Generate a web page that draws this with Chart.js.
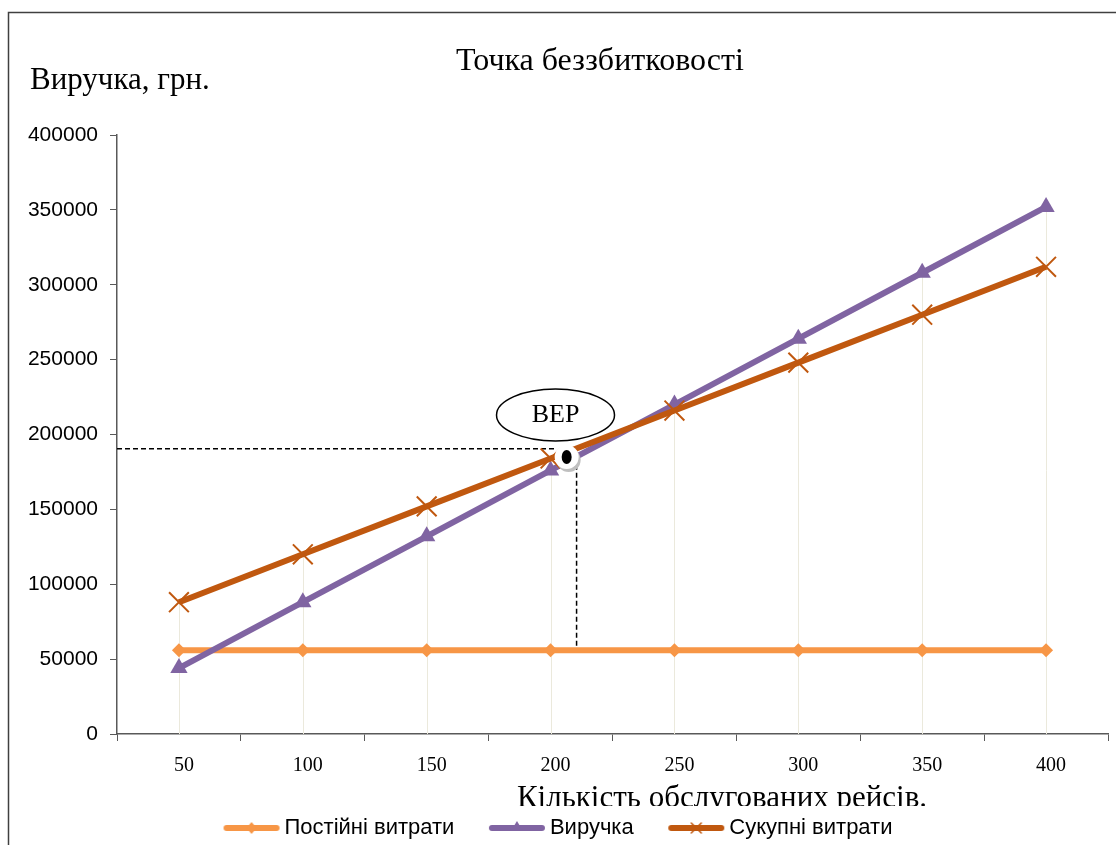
<!DOCTYPE html>
<html>
<head>
<meta charset="utf-8">
<script src="https://cdn.jsdelivr.net/npm/chart.js@4.4.1/dist/chart.umd.min.js"></script>
<style>
  html, body { margin: 0; padding: 0; background: #fff; overflow: hidden; }
  #wrap { position: relative; width: 1116px; height: 845px; overflow: hidden; }
</style>
</head>
<body>
<div id="wrap"><canvas id="bepChart" width="1124" height="845"></canvas></div>
<script>
// data
var categories = ['50', '100', '150', '200', '250', '300', '350', '400'];
var fixedCosts = [56000, 56000, 56000, 56000, 56000, 56000, 56000, 56000];
var revenue = [44000, 88000, 132000, 176000, 220000, 264000, 308000, 352000];
var totalCosts = [88000, 120000, 152000, 184000, 216000, 248000, 280000, 312000];
var yMin = 0, yMax = 400000, yStep = 50000;
var seriesNames = ['Постійні витрати', 'Виручка', 'Сукупні витрати'];

// BEP annotation (category index position, value)
var bepMarker = { idx: 3.13, value: 185000 };
var bepGuide = { idx: 3.21, value: 190500 };
var bepLabel = { idx: 3.04, value: 213000, text: 'BEP' };

var colors = ['#F79646', '#8064A2', '#C0580F'];
var serif = '"Liberation Serif", "Times New Roman", serif';
var sans = '"Liberation Sans", Arial, sans-serif';

function legendIcon(color, style) {
    var c = document.createElement('canvas');
    c.width = 58; c.height = 18;
    var g = c.getContext('2d');
    g.strokeStyle = color; g.lineWidth = 6; g.lineCap = 'round';
    g.beginPath(); g.moveTo(4, 9); g.lineTo(54, 9); g.stroke();
    g.fillStyle = color;
    if (style === 'diamond') {
        g.beginPath(); g.moveTo(29, 3); g.lineTo(34, 9); g.lineTo(29, 15); g.lineTo(24, 9); g.closePath(); g.fill();
    } else if (style === 'triangle') {
        g.beginPath(); g.moveTo(29, 2); g.lineTo(35, 12); g.lineTo(23, 12); g.closePath(); g.fill();
    } else {
        g.lineWidth = 1.5;
        g.beginPath(); g.moveTo(24, 4); g.lineTo(34, 14); g.moveTo(34, 4); g.lineTo(24, 14); g.stroke();
    }
    return c;
}
var icons = [legendIcon(colors[0], 'diamond'), legendIcon(colors[1], 'triangle'), legendIcon(colors[2], 'cross')];

var extras = {
    id: 'extras',
    beforeDraw: function (chart) {
        var c = chart.ctx;
        c.save();
        c.fillStyle = '#fff';
        c.fillRect(0, 0, chart.width, chart.height);
        // outer frame
        c.strokeStyle = '#404040'; c.lineWidth = 1.5;
        c.beginPath(); c.moveTo(8.5, chart.height); c.lineTo(8.5, 12.5); c.lineTo(chart.width, 12.5); c.stroke();
        // titles
        c.fillStyle = '#000';
        c.textBaseline = 'alphabetic';
        c.font = '32px ' + serif;
        c.textAlign = 'center';
        c.fillText('Точка беззбитковості', 600, 70);
        c.font = '31px ' + serif;
        c.textAlign = 'left';
        c.fillText('Виручка, грн.', 30, 89);
        c.save();
        c.beginPath(); c.rect(0, 0, chart.width, 806); c.clip();
        c.font = '31px ' + serif;
        c.textAlign = 'center';
        c.fillText('Кількість обслугованих рейсів.', 722, 807);
        c.restore();
        c.restore();
    },
    beforeDatasetsDraw: function (chart) {
        var c = chart.ctx, x = chart.scales.x, y = chart.scales.y;
        c.save();
        // drop lines
        c.strokeStyle = '#ebe9dc'; c.lineWidth = 1;
        for (var i = 0; i < categories.length; i++) {
            var top = Math.max(fixedCosts[i], revenue[i], totalCosts[i]);
            var px = Math.round(x.getPixelForValue(i)) + 0.5;
            c.beginPath(); c.moveTo(px, y.getPixelForValue(top)); c.lineTo(px, y.getPixelForValue(0)); c.stroke();
        }
        // BEP guides
        c.strokeStyle = '#000'; c.lineWidth = 1.5; c.setLineDash([5, 3]);
        var gx = x.getPixelForValue(bepGuide.idx), gy = y.getPixelForValue(bepGuide.value);
        c.beginPath(); c.moveTo(chart.chartArea.left, gy); c.lineTo(gx - 22, gy); c.stroke();
        c.beginPath(); c.moveTo(gx, gy + 16); c.lineTo(gx, y.getPixelForValue(fixedCosts[0])); c.stroke();
        c.restore();
    },
    afterDatasetsDraw: function (chart) {
        var c = chart.ctx, x = chart.scales.x, y = chart.scales.y;
        c.save();
        var mx = x.getPixelForValue(bepMarker.idx), my = y.getPixelForValue(bepMarker.value);
        c.fillStyle = '#bfbfbf';
        c.beginPath(); c.arc(mx + 2, my + 3, 12, 0, Math.PI * 2); c.fill();
        c.fillStyle = '#fff';
        c.beginPath(); c.arc(mx, my, 12, 0, Math.PI * 2); c.fill();
        c.fillStyle = '#000';
        c.beginPath(); c.ellipse(mx, my, 5, 7, 0, 0, Math.PI * 2); c.fill();
        // BEP callout
        var lx = x.getPixelForValue(bepLabel.idx), ly = y.getPixelForValue(bepLabel.value);
        c.fillStyle = '#fff'; c.strokeStyle = '#000'; c.lineWidth = 1.5;
        c.beginPath(); c.ellipse(lx, ly, 59, 26, 0, 0, Math.PI * 2); c.fill(); c.stroke();
        c.fillStyle = '#000';
        c.font = '26px ' + serif; c.textAlign = 'center'; c.textBaseline = 'middle';
        c.fillText(bepLabel.text, lx, ly);
        c.restore();
    }
};

var ctx = document.getElementById('bepChart').getContext('2d');
var myChart = new Chart(ctx, {
    type: 'line',
    data: {
        labels: categories,
        datasets: [
            {
                label: seriesNames[0],
                data: fixedCosts,
                borderColor: colors[0],
                backgroundColor: colors[0],
                borderWidth: 6,
                pointStyle: 'rectRot',
                pointRadius: 7,
                pointBorderWidth: 0,
                order: 2
            },
            {
                label: seriesNames[1],
                data: revenue,
                borderColor: colors[1],
                backgroundColor: colors[1],
                borderWidth: 6,
                pointStyle: 'triangle',
                pointRadius: 10,
                pointBorderWidth: 0,
                order: 1
            },
            {
                label: seriesNames[2],
                data: totalCosts,
                borderColor: colors[2],
                backgroundColor: colors[2],
                borderWidth: 6,
                pointStyle: 'crossRot',
                pointRadius: 14,
                pointBorderWidth: 2,
                order: 0
            }
        ]
    },
    options: {
        responsive: false,
        animation: false,
        layout: { padding: { top: 135, right: 2, left: 0, bottom: -4 } },
        scales: {
            x: {
                offset: true,
                grid: { display: true, drawOnChartArea: false, offset: true, tickLength: 7, color: '#595959' },
                border: { color: '#595959', width: 1.5 },
                ticks: { color: '#000', font: { family: serif, size: 20 }, padding: 13, labelOffset: 5, maxRotation: 0 },
                afterFit: function (s) { s.height = 73; }
            },
            y: {
                min: yMin,
                max: yMax,
                grid: { display: true, drawOnChartArea: false, tickLength: 7, color: '#595959' },
                border: { color: '#595959', width: 1.5 },
                ticks: {
                    stepSize: yStep, color: '#000', font: { family: sans, size: 21 }, padding: 12,
                    callback: function (v) { return String(v); }
                },
                afterFit: function (s) { s.width = 117; }
            }
        },
        plugins: {
            title: { display: false },
            tooltip: { enabled: false },
            legend: {
                position: 'bottom',
                labels: {
                    usePointStyle: true,
                    pointStyleWidth: 44,
                    padding: 10,
                    color: '#000',
                    font: { family: sans, size: 22 },
                    generateLabels: function () {
                        return seriesNames.map(function (n, i) {
                            return {
                                text: i < seriesNames.length - 1 ? n + '     ' : n,
                                fillStyle: colors[i], strokeStyle: colors[i], lineWidth: 0,
                                pointStyle: icons[i], hidden: false, datasetIndex: i
                            };
                        });
                    }
                }
            }
        }
    },
    plugins: [extras]
});
</script>
</body>
</html>
